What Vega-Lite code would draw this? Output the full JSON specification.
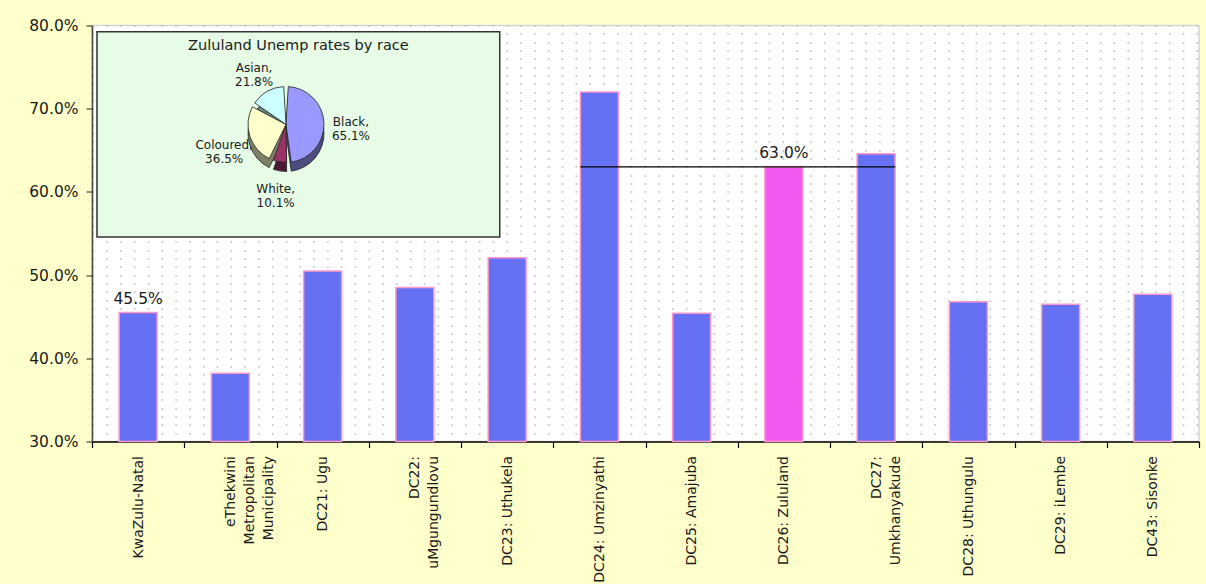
{
  "$schema": "https://vega.github.io/schema/vega-lite/v6.json",
  "background": "#FFFFCC",
  "padding": {"left": 28, "top": 18.5, "right": 6, "bottom": 1},
  "autosize": {"type": "pad"},
  "config": {
    "font": "DejaVu Sans",
    "view": {"stroke": null}
  },
  "datasets": {
    "districts": [
      {"region": "KwaZulu-Natal", "rate": 0.455},
      {"region": "eThekwini Metropolitan Municipality", "rate": 0.382},
      {"region": "DC21: Ugu", "rate": 0.505},
      {"region": "DC22: uMgungundlovu", "rate": 0.485},
      {"region": "DC23: Uthukela", "rate": 0.521},
      {"region": "DC24: Umzinyathi", "rate": 0.72},
      {"region": "DC25: Amajuba", "rate": 0.454},
      {"region": "DC26: Zululand", "rate": 0.63},
      {"region": "DC27: Umkhanyakude", "rate": 0.646},
      {"region": "DC28: Uthungulu", "rate": 0.468},
      {"region": "DC29: iLembe", "rate": 0.465},
      {"region": "DC43: Sisonke", "rate": 0.477}
    ],
    "zululand_race": [
      {"race": "Black", "rate": 0.651},
      {"race": "White", "rate": 0.101},
      {"race": "Coloured", "rate": 0.365},
      {"race": "Asian", "rate": 0.218}
    ],
    "inset_frame": [{}]
  },
  "width": 1107,
  "height": 416,
  "view": {"fill": "white", "stroke": "#D4D4D4", "strokeWidth": 1.5},
  "layer": [
    {
      "data": {"name": "districts"},
      "mark": {"type": "bar", "width": {"band": 0.412}, "stroke": "#FF99CC", "strokeWidth": 1.5},
      "encoding": {
        "x": {
          "field": "region",
          "type": "nominal",
          "sort": null,
          "scale": {
            "domain": ["KwaZulu-Natal", "eThekwini Metropolitan Municipality", "DC21: Ugu", "DC22: uMgungundlovu", "DC23: Uthukela", "DC24: Umzinyathi", "DC25: Amajuba", "DC26: Zululand", "DC27: Umkhanyakude", "DC28: Uthungulu", "DC29: iLembe", "DC43: Sisonke"],
            "paddingInner": 0,
            "paddingOuter": 0
          },
          "axis": {
            "title": null,
            "labelAngle": 270,
            "labelAlign": "right",
            "labelBaseline": "middle",
            "labelFontSize": 14,
            "labelColor": "#1a1a1a",
            "labelPadding": 8,
            "labelLineHeight": 19,
            "labelLimit": 300,
            "labelExpr": "length(datum.label) > 17 ? split(datum.label, ' ') : datum.label",
            "tickBand": "extent",
            "tickSize": 6,
            "tickWidth": 1.2,
            "tickColor": "#000000",
            "domainColor": "#000000",
            "domainWidth": 1.5
          }
        },
        "y": {
          "field": "rate",
          "type": "quantitative",
          "scale": {"domain": [0.3, 0.8], "nice": false, "zero": false},
          "axis": {
            "title": null,
            "values": [0.3, 0.31, 0.32, 0.33, 0.34, 0.35, 0.36, 0.37, 0.38, 0.39, 0.4, 0.41, 0.42, 0.43, 0.44, 0.45, 0.46, 0.47, 0.48, 0.49, 0.5, 0.51, 0.52, 0.53, 0.54, 0.55, 0.56, 0.57, 0.58, 0.59, 0.6, 0.61, 0.62, 0.63, 0.64, 0.65, 0.66, 0.67, 0.68, 0.69, 0.7, 0.71, 0.72, 0.73, 0.74, 0.75, 0.76, 0.77, 0.78, 0.79, 0.8],
            "tickCount": 100,
            "format": ".1%",
            "labelExpr": "round(datum.value * 100) % 10 === 0 ? datum.label : ''",
            "labelOverlap": false,
            "labelFlush": false,
            "labelFontSize": 15.5,
            "labelColor": "#1a1a1a",
            "labelPadding": 8,
            "tickOpacity": {"condition": {"test": "round(datum.value * 100) % 10 === 0", "value": 1}, "value": 0},
            "tickSize": 6,
            "tickColor": "#444444",
            "tickWidth": 1.2,
            "domainColor": "#444444",
            "domainWidth": 1.5,
            "grid": true,
            "gridColor": "#BBBBBB",
            "gridWidth": 1.6,
            "gridDash": [1.6, 12.2]
          }
        },
        "y2": {"datum": 0.3},
        "fill": {
          "condition": {"test": "datum.region === 'DC26: Zululand'", "value": "#F05AF0"},
          "value": "#6670F2"
        }
      }
    },
    {
      "data": {"name": "districts"},
      "transform": [{"filter": "datum.region === 'KwaZulu-Natal'"}],
      "mark": {"type": "text", "baseline": "bottom", "dy": -6, "fontSize": 15.5, "color": "#1a1a1a"},
      "encoding": {
        "x": {"field": "region", "type": "nominal"},
        "y": {"field": "rate", "type": "quantitative"},
        "text": {"field": "rate", "type": "quantitative", "format": ".1%"}
      }
    },
    {
      "data": {"name": "districts"},
      "transform": [{"filter": "datum.region === 'DC26: Zululand'"}],
      "mark": {"type": "rule", "color": "#000000", "strokeWidth": 1.2},
      "encoding": {
        "x": {"datum": "DC24: Umzinyathi", "type": "nominal", "bandPosition": 0.294},
        "x2": {"datum": "DC27: Umkhanyakude", "bandPosition": 0.706},
        "y": {"field": "rate", "type": "quantitative"}
      }
    },
    {
      "data": {"name": "districts"},
      "transform": [{"filter": "datum.region === 'DC26: Zululand'"}],
      "mark": {"type": "text", "baseline": "bottom", "dy": -6, "fontSize": 15.5, "color": "#1a1a1a"},
      "encoding": {
        "x": {"field": "region", "type": "nominal"},
        "y": {"field": "rate", "type": "quantitative"},
        "text": {"field": "rate", "type": "quantitative", "format": ".1%"}
      }
    },
    {
      "data": {"name": "inset_frame"},
      "mark": {"type": "rect", "fill": "#E6FCE6", "stroke": "#333333", "strokeWidth": 1.5},
      "encoding": {
        "x": {"datum": "KwaZulu-Natal", "type": "nominal", "bandPosition": 0.054},
        "x2": {"datum": "DC23: Uthukela", "bandPosition": 0.42},
        "y": {"datum": 0.7925, "type": "quantitative"},
        "y2": {"datum": 0.5458}
      }
    },
    {
      "data": {"name": "inset_frame"},
      "mark": {"type": "text", "text": "Zululand Unemp rates by race", "fontSize": 14.5, "color": "#1a1a1a", "align": "center", "baseline": "middle"},
      "encoding": {
        "x": {"datum": "DC21: Ugu", "type": "nominal", "bandPosition": 0.237},
        "y": {"datum": 0.7757, "type": "quantitative"}
      }
    },
    {
      "data": {"name": "zululand_race"},
      "transform": [{"window": [{"op": "row_number", "as": "slice"}]}],
      "mark": {"type": "arc", "outerRadius": 38, "padAngle": 0.12, "stroke": "#222222", "strokeWidth": 0.8, "yOffset": 9},
      "encoding": {
        "x": {"datum": "DC21: Ugu", "type": "nominal", "bandPosition": 0.103},
        "y": {"datum": 0.681, "type": "quantitative"},
        "theta": {"field": "rate", "type": "quantitative", "stack": true},
        "order": {"field": "slice", "type": "quantitative"},
        "fill": {
          "field": "race",
          "type": "nominal",
          "scale": {"domain": ["Black", "White", "Coloured", "Asian"], "range": ["#4D4D80", "#4D1A33", "#808066", "#668080"]},
          "legend": null
        }
      }
    },
    {
      "data": {"name": "zululand_race"},
      "transform": [{"window": [{"op": "row_number", "as": "slice"}]}],
      "mark": {"type": "arc", "outerRadius": 38, "padAngle": 0.12, "stroke": "#222222", "strokeWidth": 0.8},
      "encoding": {
        "x": {"datum": "DC21: Ugu", "type": "nominal", "bandPosition": 0.103},
        "y": {"datum": 0.681, "type": "quantitative"},
        "theta": {"field": "rate", "type": "quantitative", "stack": true},
        "order": {"field": "slice", "type": "quantitative"},
        "color": {
          "field": "race",
          "type": "nominal",
          "scale": {"domain": ["Black", "White", "Coloured", "Asian"], "range": ["#9999FF", "#993366", "#FFFFCC", "#CCFFFF"]},
          "legend": null
        }
      }
    },
    {
      "data": {"name": "zululand_race"},
      "transform": [
        {"window": [{"op": "row_number", "as": "slice"}]},
        {"calculate": "datum.race + ',\\n' + format(datum.rate, '.1%')", "as": "label"}
      ],
      "mark": {"type": "text", "radius": 65, "fontSize": 12, "color": "#1a1a1a", "lineBreak": "\n", "align": "center", "baseline": "middle"},
      "encoding": {
        "x": {"datum": "DC21: Ugu", "type": "nominal", "bandPosition": 0.103},
        "y": {"datum": 0.681, "type": "quantitative"},
        "theta": {"field": "rate", "type": "quantitative", "stack": true},
        "order": {"field": "slice", "type": "quantitative"},
        "text": {"field": "label", "type": "nominal"}
      }
    }
  ]
}
